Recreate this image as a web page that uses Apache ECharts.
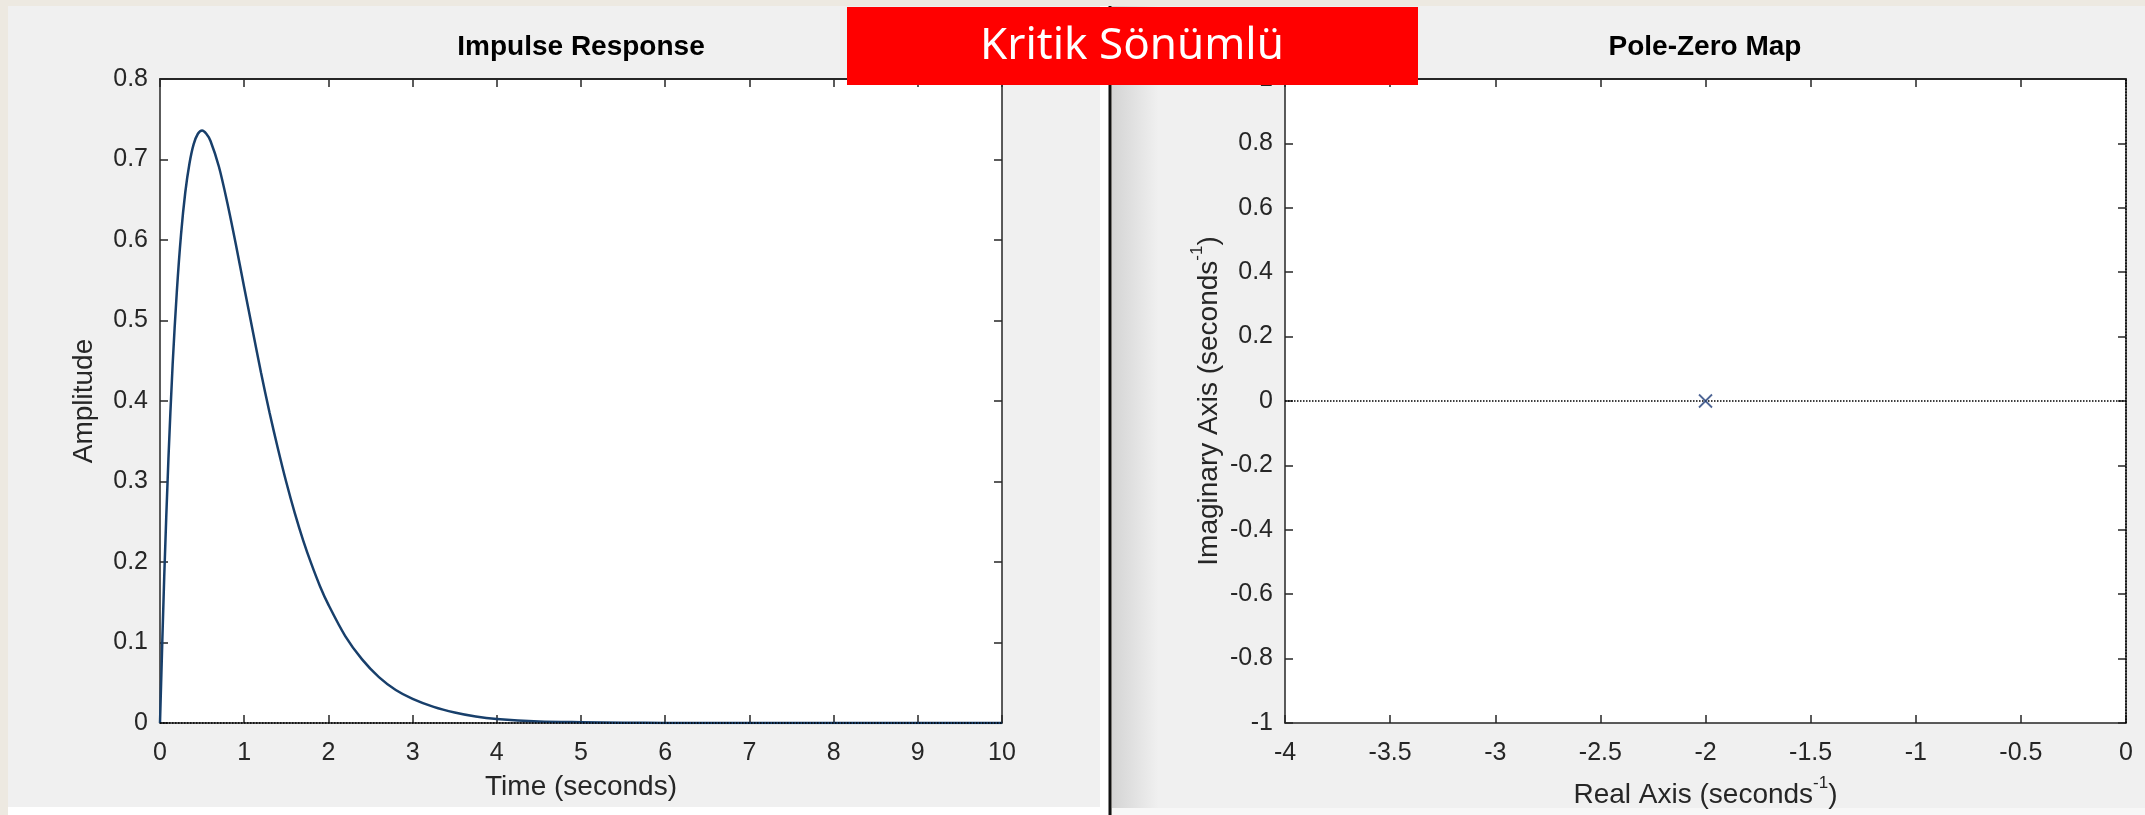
<!DOCTYPE html>
<html>
<head>
<meta charset="utf-8">
<title>Kritik Sönümlü</title>
<script src="https://cdn.jsdelivr.net/npm/echarts@6/dist/echarts.min.js"></script>
<style>
  html, body { margin: 0; padding: 0; background: #ede9e1; }
  #chart { width: 2145px; height: 815px; }
</style>
</head>
<body>
<div id="chart"></div>
<script>
  // impulse response
  const timeSec = [0, 0.05, 0.1, 0.15, 0.2, 0.25, 0.3, 0.35, 0.4, 0.45, 0.5, 0.55, 0.6, 0.7, 0.8, 0.9,
    1.0, 1.1, 1.2, 1.3, 1.4, 1.5, 1.6, 1.7, 1.8, 1.9, 2.0, 2.2, 2.4, 2.6, 2.8, 3.0, 3.25, 3.5, 3.75,
    4.0, 4.5, 5, 5.5, 6, 7, 8, 9, 10]
  const amplitude = [0, 0.181, 0.328, 0.445, 0.536, 0.607, 0.659, 0.695, 0.719, 0.732, 0.736, 0.732, 0.723, 0.691, 0.646, 0.595,
    0.541, 0.488, 0.435, 0.386, 0.341, 0.299, 0.261, 0.227, 0.197, 0.170, 0.147, 0.108, 0.079, 0.057, 0.041, 0.030, 0.020, 0.013, 0.008,
    0.005, 0.002, 0.001, 0.0004, 0.0001, 0, 0, 0, 0]

  // pole-zero map: one double pole at s = -2
  const poleReal = [-2]
  const poleImag = [0]

  // axis ranges / ticks
  const timeTicks = { min: 0, max: 10, interval: 1 }
  const ampTicks = { min: 0, max: 0.8, interval: 0.1 }
  const realTicks = { min: -4, max: 0, interval: 0.5 }
  const imagTicks = { min: -1, max: 1, interval: 0.2 }

  const font = 'Liberation Sans, Arial, Helvetica, sans-serif'
  const ink = '#262626'

  function mainAxis(range, extra) {
    return Object.assign({
      type: 'value',
      min: range.min,
      max: range.max,
      interval: range.interval,
      splitLine: { show: false },
      axisLine: { show: true, onZero: false, lineStyle: { color: ink, width: 1.5 } },
      axisTick: { show: true, inside: true, length: 8, lineStyle: { color: ink, width: 1.5 } },
      axisLabel: { color: ink, fontFamily: font, fontSize: 25 },
    }, extra)
  }

  function boxAxis(range, pos, gridIndex) {
    return {
      type: 'value',
      gridIndex: gridIndex,
      position: pos,
      min: range.min,
      max: range.max,
      interval: range.interval,
      splitLine: { show: false },
      axisLine: { show: true, onZero: false, lineStyle: { color: ink, width: pos === 'top' ? 2 : 1.5 } },
      axisTick: { show: true, inside: true, length: 8, lineStyle: { color: ink, width: 1.5 } },
      axisLabel: { show: false },
    }
  }

  const nameStyle = {
    color: ink,
    fontFamily: font,
    fontSize: 28,
  }

  const supRich = {
    a: { fontFamily: font, fontSize: 28, color: ink, lineHeight: 34, verticalAlign: 'bottom' },
    s: { fontFamily: font, fontSize: 17, color: ink, lineHeight: 17, verticalAlign: 'top' },
  }

  let chart = echarts.init(document.getElementById('chart'))
  chart.setOption({
    backgroundColor: '#ede9e1',
    animation: false,
    graphic: [
      { type: 'rect', z: -10, shape: { x: 8, y: 6, width: 1102, height: 809 }, style: { fill: '#ffffff' } },
      { type: 'rect', z: -9, shape: { x: 8, y: 6, width: 1092, height: 801 }, style: { fill: '#f0f0f0' } },
      { type: 'rect', z: -9, shape: { x: 1112, y: 6, width: 1033, height: 809 }, style: { fill: '#f7f7f7' } },
      {
        type: 'rect', z: -8, shape: { x: 1112, y: 6, width: 1033, height: 802 },
        style: {
          fill: new echarts.graphic.LinearGradient(0, 0, 1, 0, [
            { offset: 0, color: '#d4d4d4' },
            { offset: 0.045, color: '#f0f0f0' },
            { offset: 1, color: '#f0f0f0' },
          ]),
        },
      },
      { type: 'rect', z: -7, shape: { x: 1108.5, y: 6, width: 3, height: 809 }, style: { fill: '#111111' } },
      // banner
      { type: 'rect', z: 100, shape: { x: 847, y: 7, width: 571, height: 78 }, style: { fill: '#ff0000' } },
      {
        type: 'text', z: 101, x: 1132, y: 46,
        style: {
          text: 'Kritik Sönümlü', fill: '#ffffff', fontFamily: 'Noto Sans, sans-serif', fontSize: 44,
          align: 'center', verticalAlign: 'middle',
        },
      },
    ],
    title: [
      {
        text: 'Impulse Response', left: 581, top: 33, textAlign: 'center', padding: 0,
        textStyle: { color: '#000', fontFamily: font, fontSize: 28, fontWeight: 'bold' },
      },
      {
        text: 'Pole-Zero Map', left: 1705, top: 33, textAlign: 'center', padding: 0,
        textStyle: { color: '#000', fontFamily: font, fontSize: 28, fontWeight: 'bold' },
      },
    ],
    grid: [
      { left: 160, top: 79, width: 842, height: 644, show: true, backgroundColor: '#ffffff', borderWidth: 0 },
      { left: 1285, top: 79, width: 841, height: 644, show: true, backgroundColor: '#ffffff', borderWidth: 0 },
    ],
    xAxis: [
      mainAxis(timeTicks, {
        gridIndex: 0, position: 'bottom',
        axisLabel: { color: ink, fontFamily: font, fontSize: 25, margin: 18 },
        name: 'Time (seconds)', nameLocation: 'middle', nameGap: 50, nameTextStyle: nameStyle,
      }),
      mainAxis(realTicks, {
        gridIndex: 1, position: 'bottom',
        axisLabel: { color: ink, fontFamily: font, fontSize: 25, margin: 18 },
        name: '{a|Real Axis (seconds}{s|-1}{a|)}', nameLocation: 'middle', nameGap: 52,
        nameTextStyle: { rich: supRich },
      }),
      boxAxis(timeTicks, 'top', 0),
      boxAxis(realTicks, 'top', 1),
    ],
    yAxis: [
      mainAxis(ampTicks, {
        gridIndex: 0, position: 'left',
        axisLabel: { color: ink, fontFamily: font, fontSize: 25, margin: 12 },
        name: 'Amplitude', nameLocation: 'middle', nameGap: 62, nameTextStyle: nameStyle,
      }),
      mainAxis(imagTicks, {
        gridIndex: 1, position: 'left',
        axisLabel: { color: ink, fontFamily: font, fontSize: 25, margin: 12 },
        name: '{a|Imaginary Axis (seconds}{s|-1}{a|)}', nameLocation: 'middle', nameGap: 62,
        nameTextStyle: { rich: supRich },
      }),
      boxAxis(ampTicks, 'right', 0),
      boxAxis(imagTicks, 'right', 1),
    ],
    series: [
      {
        name: 'Impulse',
        type: 'line',
        xAxisIndex: 0,
        yAxisIndex: 0,
        symbol: 'none',
        smooth: 0.3,
        lineStyle: { color: '#183f6b', width: 2.5 },
        data: timeSec.map((t, i) => [t, amplitude[i]]),
        markLine: {
          silent: true,
          symbol: ['none', 'none'],
          label: { show: false },
          lineStyle: { color: '#000', type: 'dotted', width: 1.5 },
          data: [{ yAxis: 0 }],
        },
      },
      {
        name: 'Poles',
        type: 'scatter',
        xAxisIndex: 1,
        yAxisIndex: 1,
        symbol: 'path://M0,0L10,10M10,0L0,10',
        symbolSize: 13,
        itemStyle: { color: 'transparent', borderColor: '#23407a', borderWidth: 1.8 },
        data: poleReal.map((r, i) => [r, poleImag[i]]),
        z: 5,
        markLine: {
          silent: true,
          symbol: ['none', 'none'],
          label: { show: false },
          lineStyle: { color: '#000', type: 'dotted', width: 1.5 },
          data: [{ yAxis: 0 }, { xAxis: 0 }],
        },
      },
    ],
  })
  window.onresize = function () {
    chart.resize()
  }
</script>
</body>
</html>
